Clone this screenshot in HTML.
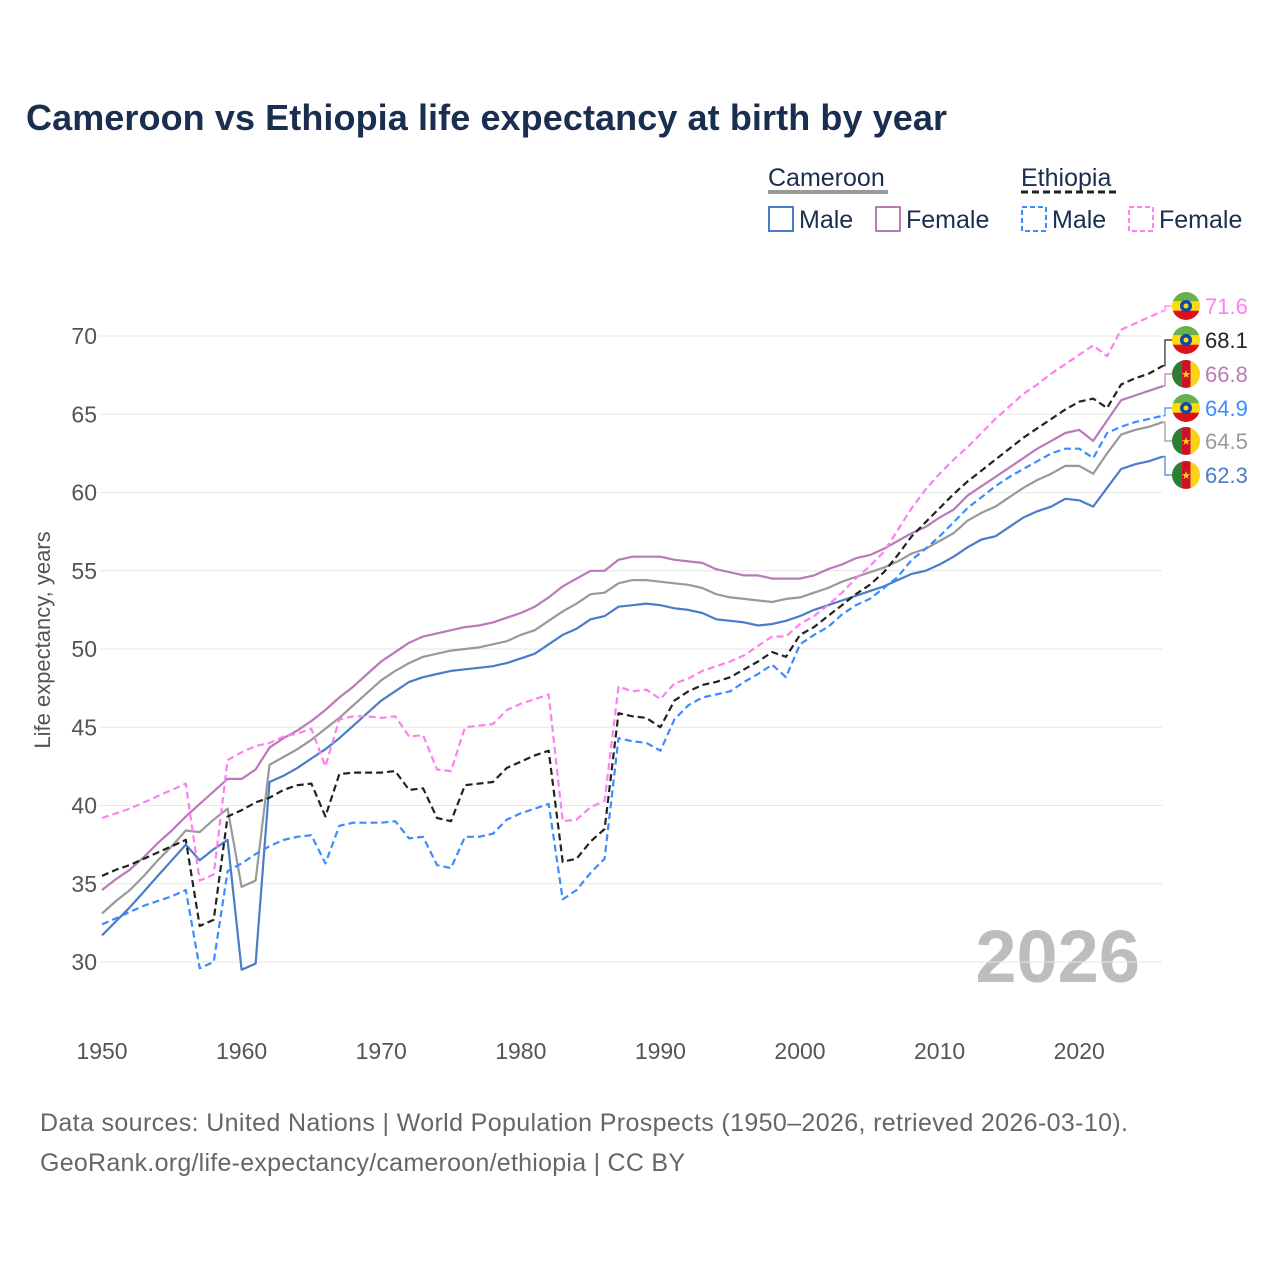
<!DOCTYPE html>
<html><head><meta charset="utf-8">
<style>
body{margin:0;background:#fff;font-family:"Liberation Sans",sans-serif;}
svg text{font-family:"Liberation Sans",sans-serif;}
</style></head>
<body>
<svg id="chart" width="1280" height="1280" viewBox="0 0 1280 1280">
<text x="26" y="130" font-size="36" font-weight="bold" fill="#1a2e4f" textLength="921">Cameroon vs Ethiopia life expectancy at birth by year</text>
<g font-size="25" fill="#1a2e4f">
<text x="768" y="186">Cameroon</text>
<line x1="768" y1="192" x2="888" y2="192" stroke="#999" stroke-width="4"/>
<text x="1021" y="186">Ethiopia</text>
<line x1="1021" y1="192" x2="1116" y2="192" stroke="#222" stroke-width="3" stroke-dasharray="7,4"/>
<g><rect x="769" y="207" width="24" height="24" fill="none" stroke="#4a7cc9" stroke-width="2"/><text x="799" y="228">Male</text></g>
<g><rect x="876" y="207" width="24" height="24" fill="none" stroke="#b87ab8" stroke-width="2"/><text x="906" y="228">Female</text></g>
<g><rect x="1022" y="207" width="24" height="24" fill="none" stroke="#3b8cff" stroke-width="2" stroke-dasharray="5,3"/><text x="1052" y="228">Male</text></g>
<g><rect x="1129" y="207" width="24" height="24" fill="none" stroke="#ff7ff0" stroke-width="2" stroke-dasharray="5,3"/><text x="1159" y="228">Female</text></g>
</g>
<text x="1140" y="982" font-size="74" font-weight="bold" fill="#bdbdbd" text-anchor="end">2026</text>
<text transform="translate(50,640) rotate(-90)" font-size="22" fill="#555" text-anchor="middle">Life expectancy, years</text>
<text x="40" y="1131" font-size="25" fill="#666" textLength="1088">Data sources: United Nations | World Population Prospects (1950–2026, retrieved 2026-03-10).</text>
<text x="40" y="1171" font-size="25" fill="#666" textLength="645">GeoRank.org/life-expectancy/cameroon/ethiopia | CC BY</text>
<g id="grid"></g><g id="series"></g><g id="labels"></g>
</svg>
<script>
const years=[];for(let y=1950;y<=2026;y++)years.push(y);
const yTicks=[30,35,40,45,50,55,60,65,70];
const xTicks=[1950,1960,1970,1980,1990,2000,2010,2020];
const camMale=[31.7,32.6,33.5,34.5,35.5,36.5,37.5,36.5,37.2,37.8,29.5,29.9,41.5,41.9,42.4,43.0,43.6,44.3,45.1,45.9,46.7,47.3,47.9,48.2,48.4,48.6,48.7,48.8,48.9,49.1,49.4,49.7,50.3,50.9,51.3,51.9,52.1,52.7,52.8,52.9,52.8,52.6,52.5,52.3,51.9,51.8,51.7,51.5,51.6,51.8,52.1,52.5,52.8,53.1,53.4,53.7,54.0,54.4,54.8,55.0,55.4,55.9,56.5,57.0,57.2,57.8,58.4,58.8,59.1,59.6,59.5,59.1,60.3,61.5,61.8,62.0,62.3];
const camFemale=[34.6,35.3,35.9,36.7,37.6,38.4,39.3,40.1,40.9,41.7,41.7,42.3,43.7,44.3,44.8,45.4,46.1,46.9,47.6,48.4,49.2,49.8,50.4,50.8,51.0,51.2,51.4,51.5,51.7,52.0,52.3,52.7,53.3,54.0,54.5,55.0,55.0,55.7,55.9,55.9,55.9,55.7,55.6,55.5,55.1,54.9,54.7,54.7,54.5,54.5,54.5,54.7,55.1,55.4,55.8,56.0,56.4,56.9,57.4,57.8,58.4,58.9,59.8,60.4,61.0,61.6,62.2,62.8,63.3,63.8,64.0,63.3,64.6,65.9,66.2,66.5,66.8];
const camTotal=[33.1,33.9,34.6,35.5,36.5,37.4,38.4,38.3,39.1,39.8,34.8,35.2,42.6,43.1,43.6,44.2,44.9,45.6,46.4,47.2,48.0,48.6,49.1,49.5,49.7,49.9,50.0,50.1,50.3,50.5,50.9,51.2,51.8,52.4,52.9,53.5,53.6,54.2,54.4,54.4,54.3,54.2,54.1,53.9,53.5,53.3,53.2,53.1,53.0,53.2,53.3,53.6,53.9,54.3,54.6,54.9,55.2,55.6,56.1,56.4,56.9,57.4,58.2,58.7,59.1,59.7,60.3,60.8,61.2,61.7,61.7,61.2,62.5,63.7,64.0,64.2,64.5];
const ethTotal=[35.5,35.9,36.2,36.6,37.0,37.4,37.8,32.3,32.7,39.3,39.7,40.2,40.5,41.0,41.3,41.4,39.3,42.0,42.1,42.1,42.1,42.2,41.0,41.1,39.2,39.0,41.3,41.4,41.5,42.4,42.8,43.2,43.5,36.4,36.6,37.7,38.5,45.9,45.7,45.6,45.0,46.7,47.3,47.7,47.9,48.2,48.7,49.2,49.8,49.5,50.9,51.4,52.1,52.8,53.5,54.1,54.9,56.0,57.2,58.1,59.0,59.9,60.7,61.4,62.1,62.8,63.5,64.1,64.7,65.3,65.8,66.0,65.4,66.9,67.3,67.6,68.1];
const ethMale=[32.4,32.8,33.2,33.6,33.9,34.2,34.6,29.6,30.0,35.8,36.3,36.9,37.4,37.8,38.0,38.1,36.3,38.7,38.9,38.9,38.9,39.0,37.9,38.0,36.2,36.0,38.0,38.0,38.2,39.1,39.5,39.8,40.1,34.0,34.6,35.7,36.6,44.3,44.1,44.0,43.5,45.5,46.4,46.9,47.1,47.3,47.9,48.4,49.0,48.2,50.3,50.9,51.4,52.2,52.8,53.2,53.9,54.6,55.7,56.4,57.2,58.1,59.0,59.7,60.4,61.0,61.5,62.0,62.5,62.8,62.8,62.2,63.8,64.2,64.5,64.7,64.9];
const ethFemale=[39.2,39.5,39.8,40.2,40.6,41.0,41.4,35.2,35.6,42.9,43.4,43.8,44.0,44.4,44.6,44.9,42.5,45.5,45.7,45.7,45.6,45.7,44.4,44.5,42.3,42.2,45.0,45.1,45.2,46.1,46.5,46.8,47.1,39.0,39.1,39.9,40.3,47.6,47.3,47.4,46.8,47.8,48.1,48.6,48.9,49.2,49.6,50.2,50.8,50.8,51.6,52.1,52.8,53.6,54.5,55.3,56.2,57.6,59.0,60.2,61.2,62.1,62.9,63.8,64.7,65.5,66.3,66.9,67.6,68.2,68.8,69.4,68.7,70.4,70.8,71.2,71.6];
const NS="http://www.w3.org/2000/svg";
function xS(y){return 102+(y-1950)*13.96;}
function yS(v){return 336+(70-v)*15.65;}
function mk(t,a,p){const e=document.createElementNS(NS,t);for(const k in a)e.setAttribute(k,a[k]);p.appendChild(e);return e;}
const grid=document.getElementById('grid');
yTicks.forEach(v=>{
 const l=mk('line',{x1:100,x2:1162,y1:yS(v),y2:yS(v),stroke:'#e6e6e6','stroke-width':1},grid);
 
 
 const t=mk('text',{x:97,y:yS(v)+8,'font-size':23,fill:'#555','text-anchor':'end'},grid);t.textContent=v;
 
 
});
xTicks.forEach(v=>{
 const t=mk('text',{x:xS(v),y:1059,'font-size':23,fill:'#555','text-anchor':'middle'},grid);t.textContent=v;
 
 
});
const series=[
 {n:'ethiopia-female',d:ethFemale,c:'#ff7ff0',dash:'7,4',ly:306,flag:'eth'},
 {n:'ethiopia-total',d:ethTotal,c:'#222',dash:'7,4',ly:340,flag:'eth'},
 {n:'cameroon-female',d:camFemale,c:'#b87ab8',dash:null,ly:374,flag:'cam'},
 {n:'ethiopia-male',d:ethMale,c:'#3b8cff',dash:'7,4',ly:408,flag:'eth'},
 {n:'cameroon-total',d:camTotal,c:'#999',dash:null,ly:441,flag:'cam'},
 {n:'cameroon-male',d:camMale,c:'#4a7cc9',dash:null,ly:475,flag:'cam'}
];
const sg=document.getElementById('series'),lg=document.getElementById('labels');
series.slice().reverse().forEach(s=>{
 const pts=s.d.map((v,i)=>xS(years[i]).toFixed(1)+','+yS(v).toFixed(1)).join(' ');
 const a={points:pts,fill:'none',stroke:s.c,'stroke-width':2.2,'stroke-linejoin':'round'};
 if(s.dash)a['stroke-dasharray']=s.dash;
 const p=mk('polyline',a,sg);
 
 
});
series.forEach(s=>{
 const last=s.d[s.d.length-1],ey=yS(last),ex=xS(2026);
 const g=mk('g',{},lg);
 
 
 mk('polyline',{points:`${ex},${ey} ${ex+2},${ey} ${ex+2},${s.ly} ${ex+10},${s.ly}`,fill:'none',stroke:s.c,'stroke-width':1.2},g);
 const cx=1186,cy=s.ly,r=14;
 const cid='clip-'+s.n;
 const cp=mk('clipPath',{id:cid},g);mk('circle',{cx,cy,r},cp);
 const fg=mk('g',{'clip-path':`url(#${cid})`},g);
 if(s.flag==='eth'){
  mk('rect',{x:cx-r,y:cy-r,width:2*r,height:r*2/3,fill:'#6ab04c'},fg);
  mk('rect',{x:cx-r,y:cy-r/3,width:2*r,height:r*2/3,fill:'#fcdd09'},fg);
  mk('rect',{x:cx-r,y:cy+r/3,width:2*r,height:r*2/3,fill:'#da121a'},fg);
  mk('circle',{cx,cy,r:6,fill:'#0f47af'},fg);
  mk('circle',{cx,cy,r:2.5,fill:'#fcdd09'},fg);
 }else{
  mk('rect',{x:cx-r,y:cy-r,width:r*2/3,height:2*r,fill:'#2e7d32'},fg);
  mk('rect',{x:cx-r/3,y:cy-r,width:r*2/3,height:2*r,fill:'#ce1126'},fg);
  mk('rect',{x:cx+r/3,y:cy-r,width:r*2/3,height:2*r,fill:'#fcd116'},fg);
  const st=mk('text',{x:cx,y:cy+4,'font-size':11,fill:'#fcd116','text-anchor':'middle'},fg);st.textContent='★';
 }
 const t=mk('text',{x:1205,y:s.ly+8,'font-size':22,fill:s.c},g);t.textContent=last.toFixed(1);
});
</script>
</body></html>
